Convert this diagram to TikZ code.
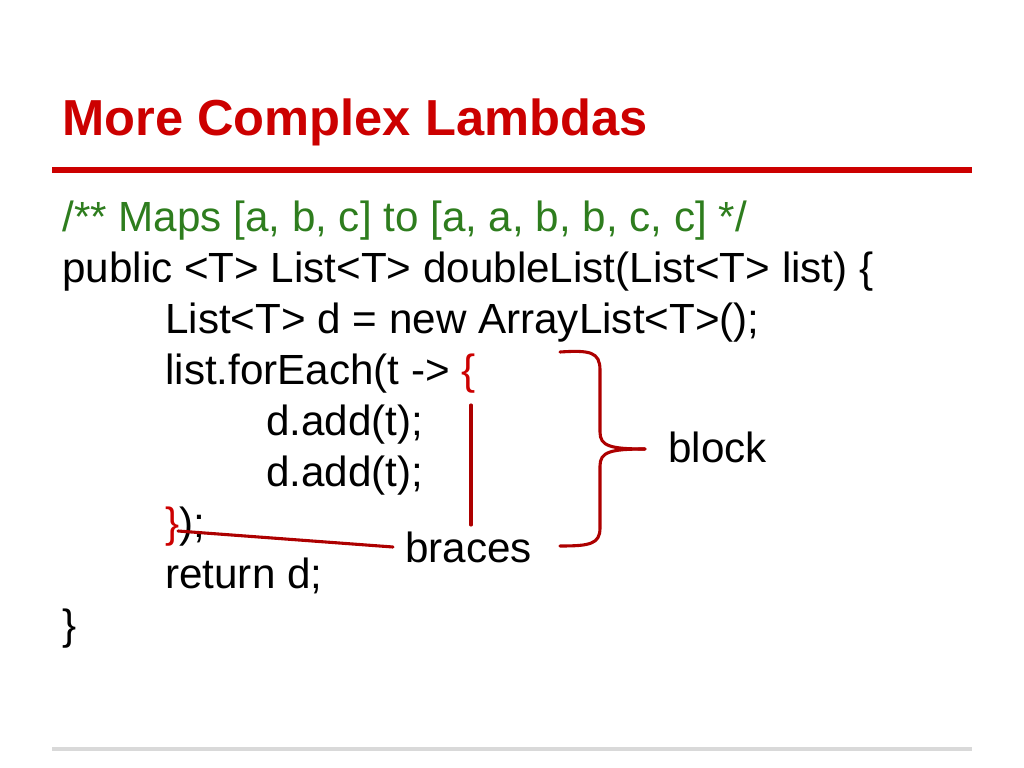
\documentclass[tikz,border=0pt]{standalone}
\usepackage{fontspec}
\setmainfont{Liberation Sans}
\definecolor{titlered}{RGB}{204,0,0}
\definecolor{cmtgreen}{RGB}{46,125,30}
\definecolor{rulegray}{RGB}{217,217,217}
\tikzset{code/.style={anchor=base west, inner sep=0pt, font=\fontsize{30}{36}\selectfont},
  mark line/.style={draw=titlered!85!black, line width=2.2pt, line cap=round}}
\begin{document}
\begin{tikzpicture}[x=0.025cm, y=-0.025cm]
\useasboundingbox (0,0) rectangle (1024,768);
\node[anchor=base west, inner sep=0pt, text=titlered, font=\fontsize{36}{42}\selectfont\bfseries] (title) at (62,136) {More Complex Lambdas};
\draw[titlered, line width=4.5pt] (52,170) -- (972,170);
\draw[rulegray, line width=3.5pt] (52,749) -- (972,749);
\node[code, text=cmtgreen] (l1) at (62,231) {/** Maps [a, b, c] to [a, a, b, b, c, c] */};
\node[code] (l2) at (62,282) {public <T> List<T> doubleList(List<T> list) \{};
\node[code] (l3) at (165,333) {List<T> d = new ArrayList<T>();};
\node[code] (l4) at (165,384) {list.forEach(t -> \textcolor{titlered}{\{}};
\node[code] (l5) at (266,435) {d.add(t);};
\node[code] (l6) at (266,486) {d.add(t);};
\node[code] (l7) at (165,537) {\textcolor{titlered}{\}});};
\node[code] (l8) at (165,588) {return d;};
\node[code] (l9) at (62,639) {\}};
\node[code] (block) at (668,462) {block};
\node[code] (braces) at (405,562) {braces};
% markers
\draw[mark line] (471,405) -- (471,525);
\draw[mark line] (178,531) -- (393,547);
\draw[mark line] (560,352) .. controls (590,350) and (600,352) .. (600,370)
  -- (600,432) .. controls (600,446) and (610,449) .. (645,449);
\draw[mark line] (645,449) .. controls (610,449) and (600,452) .. (600,466)
  -- (600,528) .. controls (600,544) and (590,546) .. (560,546);
\end{tikzpicture}
\end{document}
